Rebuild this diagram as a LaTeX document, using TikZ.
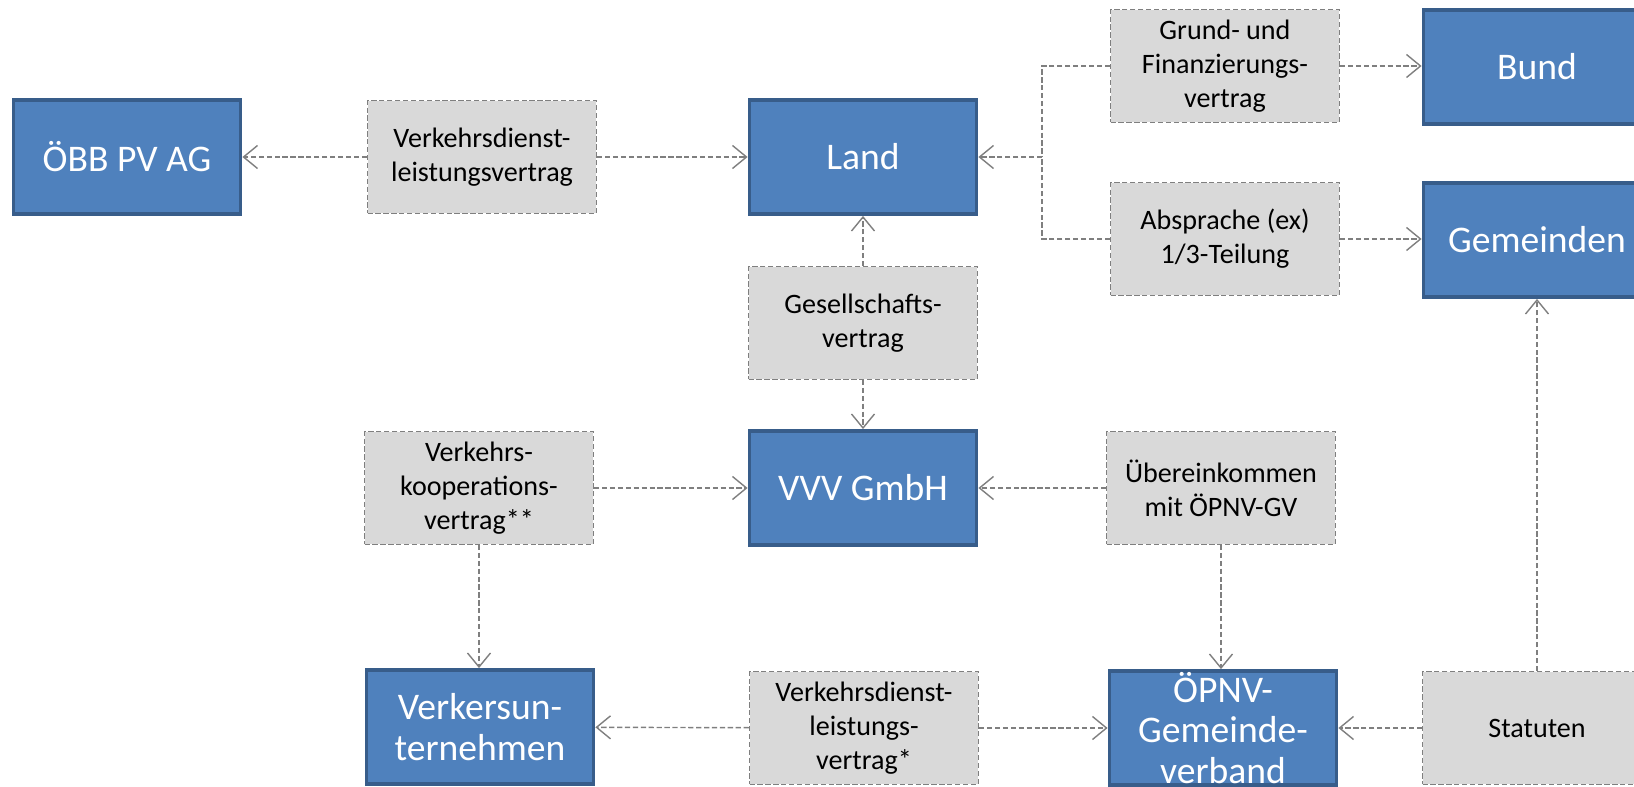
\documentclass[tikz,border=0pt]{standalone}
\usepackage{fontspec}
\setmainfont{Carlito}
\usetikzlibrary{arrows.meta,positioning,calc}
\definecolor{orgfill}{HTML}{4F81BD}
\definecolor{orgline}{HTML}{385D8A}
\definecolor{ctrfill}{HTML}{D9D9D9}
\definecolor{ctrline}{HTML}{7F7F7F}

\begin{document}
\begin{tikzpicture}[x=0.02cm,y=-0.02cm,
>={Straight Barb[length=2.8mm,width=4.6mm]},
org/.style={rectangle, fill=orgfill, draw=orgline, line width=2.2pt, text=white,
  minimum width=4.54cm, minimum height=2.28cm, inner sep=0pt, align=center,
  font=\fontsize{21.4}{23}\selectfont},
ctr/.style={rectangle, fill=ctrfill, draw=ctrline, line width=0.8pt, dash pattern=on 3pt off 1.5pt,
  minimum width=4.58cm, minimum height=2.25cm, inner sep=0pt, align=center,
  font=\fontsize{16}{19.5}\selectfont},
lnk/.style={draw=ctrline, line width=0.8pt, dash pattern=on 3pt off 1.5pt}
]
\useasboundingbox (0,0) rectangle (1634,787);
% Parties
\node[org] (oebb) at (127,157) {ÖBB PV AG};
\node[org] (land) at (863,157) {Land};
\node[org] (bund) at (1537,67) {Bund};
\node[org] (gem) at (1537,240) {Gemeinden};
\node[org] (vvv) at (863,488) {VVV GmbH};
\node[org] (vu) at (480,727) {Verkersun-\\ternehmen};
\node[org] (opnv) at (1223,728) {ÖPNV-\\Gemeinde-\\verband};
% Contracts
\node[ctr] (vdvl) at (482,157) {Verkehrsdienst-\\leistungsvertrag};
\node[ctr] (grund) at (1225,66) {Grund- und\\Finanzierungs-\\vertrag};
\node[ctr] (abs) at (1225,239) {Absprache (ex)\\1/3-Teilung};
\node[ctr] (ges) at (863,323) {Gesellschafts-\\vertrag};
\node[ctr] (vko) at (479,488) {Verkehrs-\\kooperations-\\vertrag**};
\node[ctr] (ueb) at (1221,488) {Übereinkommen\\mit ÖPNV-GV};
\node[ctr] (vdvu) at (864,728) {Verkehrsdienst-\\leistungs-\\vertrag*};
\node[ctr] (stat) at (1537,728) {Statuten};
\coordinate (jx) at (1042,157);
% Connectors
\draw[lnk,->] (vdvl) -- (oebb);
\draw[lnk,->] (vdvl) -- (land);
\draw[lnk] (grund.west) -| (jx);
\draw[lnk] (abs.west) -| (jx);
\draw[lnk,->] (jx) -- (land);
\draw[lnk,->] (grund.east) -- (grund.east -| bund.west);
\draw[lnk,->] (abs.east) -- (abs.east -| gem.west);
\draw[lnk,->] (ges) -- (land);
\draw[lnk,->] (ges) -- (vvv);
\draw[lnk,->] (vko) -- (vvv);
\draw[lnk,->] (vko.south) -- (vko.south |- vu.north);
\draw[lnk,->] (ueb) -- (vvv);
\draw[lnk,->] (ueb.south) -- (ueb.south |- opnv.north);
\draw[lnk,->] (vdvu) -- (vu);
\draw[lnk,->] (vdvu) -- (opnv);
\draw[lnk,->] (stat) -- (opnv);
\draw[lnk,->] (stat) -- (gem);
\end{tikzpicture}
\end{document}
